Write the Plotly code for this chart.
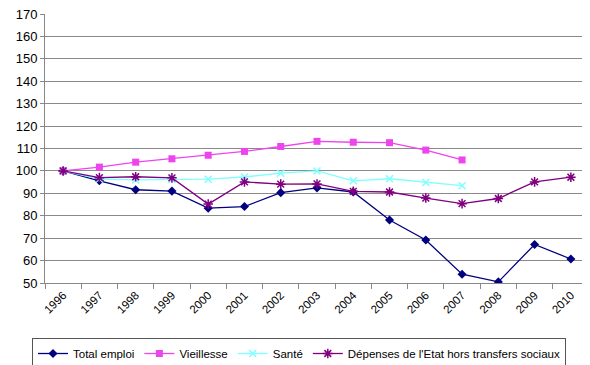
import plotly.graph_objects as go

years = [str(y) for y in range(1996, 2011)]
total_emploi = [100, 95.6, 91.6, 91.0, 83.4, 84.1, 90.3, 92.4, 90.6, 78.1, 69.2, 53.9, 50.5, 67.2, 60.7]
vieillesse = [100, 101.7, 103.9, 105.4, 107.0, 108.7, 110.9, 113.2, 112.8, 112.6, 109.3, 104.9]
sante = [100, 96.4, 96.0, 96.3, 96.3, 97.3, 99.0, 100.0, 95.6, 96.5, 94.8, 93.4]
depenses = [100, 97.0, 97.4, 96.9, 85.2, 95.1, 94.1, 94.2, 90.9, 90.6, 87.9, 85.4, 87.7, 95.1, 97.2]
y_ticks = list(range(50, 171, 10))

W, H = 582, 357

fig = go.Figure()
fig.add_trace(go.Scatter(x=years, y=total_emploi, name="Total emploi", mode="lines+markers",
                         line=dict(color="#000080", width=1.3),
                         marker=dict(symbol="diamond", size=7, color="#000080")))
fig.add_trace(go.Scatter(x=years[:len(vieillesse)], y=vieillesse, name="Vieillesse", mode="lines+markers",
                         line=dict(color="#EE44EE", width=1.3),
                         marker=dict(symbol="square", size=7, color="#EE44EE")))
fig.add_trace(go.Scatter(x=years[:len(sante)], y=sante, name="Santé", mode="lines+markers",
                         line=dict(color="#7FFFFF", width=1.3),
                         marker=dict(symbol="x-thin-open", size=7, color="#7FFFFF", line=dict(color="#7FFFFF", width=1.5))))
fig.add_trace(go.Scatter(x=years, y=depenses, name="Dépenses de l'Etat hors transfers sociaux", mode="lines+markers",
                         line=dict(color="#800080", width=1.3),
                         marker=dict(symbol="asterisk-open", size=8, color="#800080", line=dict(color="#800080", width=1.5))))

fig.update_layout(
    width=W, height=H,
    margin=dict(l=37, r=1, t=6, b=82, autoexpand=False),
    paper_bgcolor="white", plot_bgcolor="white",
    font=dict(family="Liberation Sans, Arial, sans-serif", size=12, color="black"),
    showlegend=True,
    legend=dict(orientation="h", x=0.5, xanchor="center", xref="container",
                y=1 - 330 / H, yanchor="top", yref="container",
                bordercolor="#555555", borderwidth=1, font=dict(size=11.5),
                itemwidth=30, tracegroupgap=0),
)
fig.update_xaxes(type="category", range=[-0.5, 14.5], tickangle=-45, tickfont=dict(size=11.5),
                 showline=True, linecolor="#888888", linewidth=1, ticks="outside", automargin=False,
                 tickson="boundaries", ticklen=5, tickcolor="#888888", showgrid=False,
                 ticklabeloverflow="allow")
fig.update_yaxes(range=[50, 170.01], tickvals=y_ticks, tickfont=dict(size=13), automargin=False,
                 showline=True, linecolor="#888888", linewidth=1, ticks="outside", ticklen=4,
                 tickcolor="#888888", gridcolor="#8a8a8a", gridwidth=1, zeroline=False,
                 ticklabeloverflow="allow")

fig.write_html("out.html")
